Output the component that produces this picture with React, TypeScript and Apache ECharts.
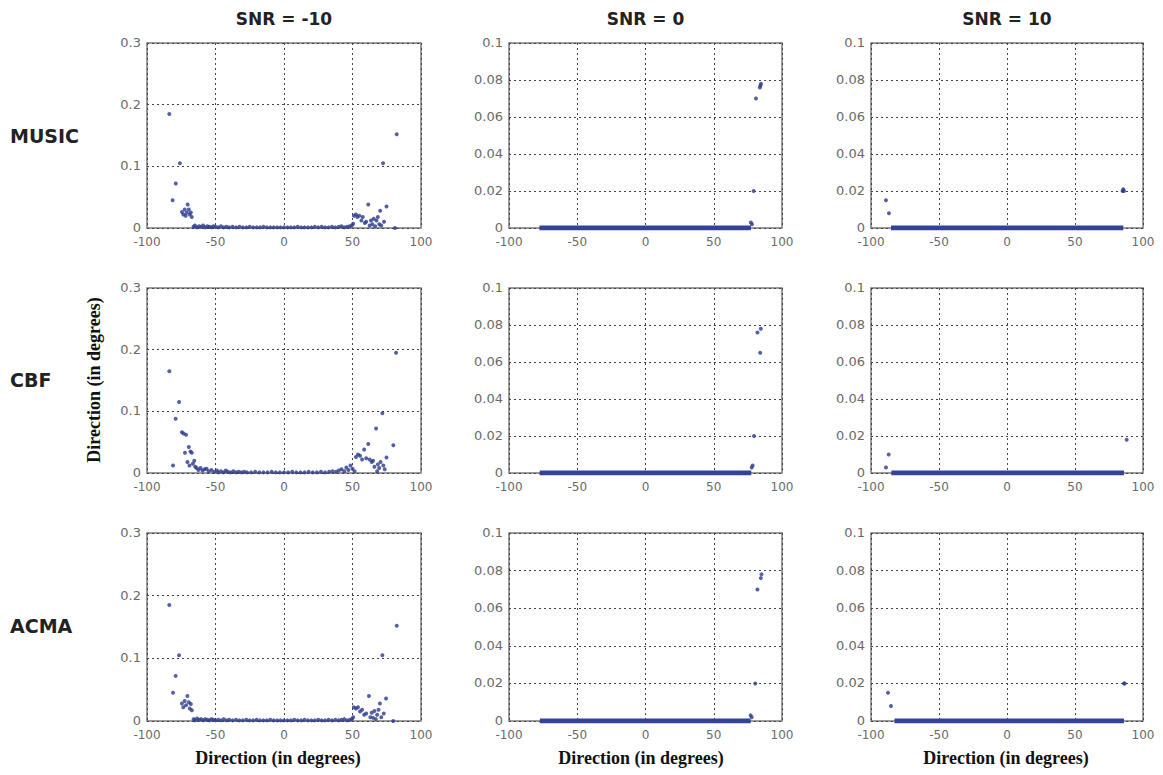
import React, { useEffect, useRef } from "react";
import * as echarts from "echarts";

// ---------- labels ----------
const methods = ["MUSIC", "CBF", "ACMA"];
const snrTitles = ["SNR = -10", "SNR = 0", "SNR = 10"];
const axisTitle = "Direction (in degrees)";
const yMaxBySnr = [0.3, 0.1, 0.1];
const yStepBySnr = [0.1, 0.02, 0.02];
const xMin = -100;
const xMax = 100;
const xStep = 50;

// ---------- SNR = -10 ----------
const musicM10: number[][] = [
  [-83.7, 0.185], [-81.3, 0.045], [-79, 0.072], [-76, 0.105],
  [-74.5, 0.026], [-73.5, 0.022], [-72.5, 0.03], [-71.8, 0.02], [-71, 0.025], [-70.3, 0.038],
  [-69.5, 0.03], [-68.8, 0.022], [-68, 0.025], [-67.3, 0.018],
  [-66, 0.002], [-65, 0.004], [-63.5, 0.001], [-62, 0.003], [-60.5, 0.002], [-59, 0.004],
  [-57.5, 0.001], [-56, 0.003], [-54.5, 0.002], [-53, 0.001], [-51.5, 0.003], [-50, 0.002],
  [-48, 0.001], [-46, 0.003], [-44, 0.001], [-42, 0.002], [-40, 0.001], [-37.5, 0.002],
  [-35, 0.001], [-32.5, 0.002], [-30, 0.001], [-27.5, 0.001], [-25, 0.002], [-22.5, 0.001],
  [-20, 0.001], [-17.5, 0.001], [-15, 0.002], [-12.5, 0.001], [-10, 0.001], [-7.5, 0.001],
  [-5, 0.001], [-2.5, 0.001], [0, 0.001], [2.5, 0.001], [5, 0.001], [7.5, 0.001],
  [10, 0.002], [12.5, 0.001], [15, 0.001], [17.5, 0.001], [20, 0.001], [22.5, 0.002],
  [25, 0.001], [27.5, 0.002], [30, 0.001], [32.5, 0.001], [35, 0.002], [37.5, 0.001],
  [40, 0.002], [42, 0.003], [44, 0.001], [46, 0.002], [48, 0.003], [49.5, 0.004], [50.5, 0.007],
  [51, 0.02], [52.5, 0.022], [53.5, 0.018], [55, 0.02], [56.5, 0.012], [57.5, 0.018],
  [59, 0.008], [60, 0.01], [61.5, 0.038], [62.5, 0.004], [63.5, 0.012], [64.5, 0.006],
  [65.5, 0.015], [66.5, 0.003], [67.5, 0.012], [68.5, 0.018], [69.5, 0.006], [70.2, 0.028],
  [71, 0.004], [72.3, 0.105], [73, 0.01], [74.8, 0.035], [81, 0.0], [82.3, 0.152],
];

const cbfM10: number[][] = [
  [-83.7, 0.165], [-81, 0.012], [-79.1, 0.088], [-76.6, 0.115],
  [-74.5, 0.066], [-73.3, 0.064], [-72.3, 0.033], [-71.5, 0.062], [-70.5, 0.018], [-69.5, 0.042],
  [-69, 0.012], [-68.3, 0.035], [-67.3, 0.033], [-66.5, 0.015], [-65.5, 0.02], [-64.8, 0.01],
  [-63.8, 0.008], [-62.5, 0.005], [-61, 0.008], [-59.5, 0.004], [-58, 0.006],
  [-56.5, 0.007], [-55, 0.003], [-53, 0.005], [-51, 0.002], [-49, 0.004], [-48, 0.001],
  [-46, 0.003], [-44, 0.001], [-42.5, 0.004], [-41, 0.002], [-39, 0.001], [-37, 0.003],
  [-35, 0.001], [-33, 0.002], [-31, 0.001], [-29, 0.002], [-27, 0.001], [-24, 0.001],
  [-21, 0.002], [-18, 0.001], [-15, 0.001], [-12, 0.001], [-9, 0.002], [-6, 0.001],
  [-3, 0.001], [0, 0.001], [3, 0.001], [6, 0.002], [9, 0.001], [12, 0.001], [15, 0.001],
  [18, 0.002], [21, 0.001], [24, 0.001], [27, 0.002], [30, 0.001], [33, 0.002], [35.5, 0.003],
  [38, 0.002], [40, 0.004], [42, 0.006], [44, 0.003], [45.5, 0.009], [47, 0.005], [48.5, 0.012],
  [50, 0.007], [51.5, 0.003],
  [52.5, 0.026], [54, 0.03], [55.5, 0.028], [57, 0.022], [58.5, 0.038], [60, 0.024],
  [61.5, 0.047], [62.5, 0.022], [64, 0.018], [65, 0.02], [66, 0.01], [67.2, 0.072],
  [68, 0.003], [68.5, 0.014], [69.5, 0.008], [70.5, 0.018], [71.8, 0.097], [72.5, 0.012],
  [73.5, 0.006], [74.8, 0.025], [79.8, 0.045], [81.8, 0.195],
];

const acmaM10: number[][] = [
  [-83.7, 0.185], [-81, 0.045], [-79.1, 0.072], [-76.6, 0.105],
  [-74.5, 0.028], [-73.5, 0.022], [-72.5, 0.032], [-71.5, 0.025], [-70.5, 0.04], [-69.5, 0.03],
  [-68.8, 0.02], [-68, 0.027], [-67.3, 0.017],
  [-66, 0.003], [-65, 0.001], [-63.5, 0.004], [-62, 0.002], [-60.5, 0.003], [-59, 0.001],
  [-57.5, 0.003], [-56, 0.002], [-54.5, 0.001], [-53, 0.003], [-51.5, 0.002], [-50, 0.001],
  [-48, 0.002], [-46, 0.001], [-44, 0.003], [-42, 0.001], [-40, 0.002], [-37.5, 0.001],
  [-35, 0.002], [-32.5, 0.001], [-30, 0.001], [-27.5, 0.002], [-25, 0.001], [-22.5, 0.001],
  [-20, 0.002], [-17.5, 0.001], [-15, 0.001], [-12.5, 0.001], [-10, 0.002], [-7.5, 0.001],
  [-5, 0.001], [-2.5, 0.001], [0, 0.001], [2.5, 0.001], [5, 0.001], [7.5, 0.002],
  [10, 0.001], [12.5, 0.001], [15, 0.002], [17.5, 0.001], [20, 0.001], [22.5, 0.001],
  [25, 0.002], [27.5, 0.001], [30, 0.001], [32.5, 0.002], [35, 0.001], [37.5, 0.002],
  [40, 0.001], [42, 0.002], [44, 0.003], [46, 0.001], [48, 0.002], [49.5, 0.003], [50.5, 0.006],
  [51, 0.022], [52.5, 0.02], [54, 0.022], [55.5, 0.015], [57, 0.018], [58.5, 0.01],
  [60, 0.012], [62, 0.04], [63, 0.006], [64, 0.013], [65, 0.005], [66, 0.016],
  [67, 0.003], [68, 0.01], [69, 0.018], [70, 0.028], [71, 0.006], [71.8, 0.105],
  [72.8, 0.012], [74.5, 0.036], [79.7, 0.0], [82.3, 0.152],
];

// ---------- SNR = 0 ----------
const music0Band = [-77.7, 77.2];
const music0Pts: number[][] = [
  [77.2, 0.003], [78, 0.002], [79.2, 0.02], [80.9, 0.07], [83.8, 0.076], [84.2, 0.077], [84.6, 0.078],
];
const cbf0Band = [-77.5, 77.5];
const cbf0Pts: number[][] = [
  [77.8, 0.003], [78.5, 0.004], [79.5, 0.02], [82, 0.076], [84, 0.065], [84.5, 0.078],
];
const acma0Band = [-77.4, 77.0];
const acma0Pts: number[][] = [
  [77, 0.003], [77.8, 0.002], [80.4, 0.02], [82, 0.07], [84.5, 0.076], [85, 0.078],
];

// ---------- SNR = 10 ----------
const music10Band = [-85.3, 85.5];
const music10Pts: number[][] = [
  [-89, 0.015], [-86.8, 0.008], [85, 0.02], [85.5, 0.021], [86, 0.02],
];
const cbf10Band = [-85, 86];
const cbf10Pts: number[][] = [
  [-89, 0.003], [-87, 0.01], [88, 0.018],
];
const acma10Band = [-82.7, 86];
const acma10Pts: number[][] = [
  [-87.5, 0.015], [-85.3, 0.008], [86, 0.02], [86.5, 0.02],
];

const panelPoints: number[][][][] = [
  [musicM10, music0Pts, music10Pts],
  [cbfM10, cbf0Pts, cbf10Pts],
  [acmaM10, acma0Pts, acma10Pts],
];
const panelBands: (number[] | null)[][] = [
  [null, music0Band, music10Band],
  [null, cbf0Band, cbf10Band],
  [null, acma0Band, acma10Band],
];

// ---------- layout ----------
const colLeft = [147, 509, 871];
const colWidth = [274, 273, 272];
const rowTop = [43, 288, 533];
const rowHeight = [185, 185, 188];

const MARK = "#2b3a8c";
const BAND = "#33439a";

export default function App() {
  const ref = useRef<HTMLDivElement>(null);
  useEffect(() => {
    if (!ref.current) return;
    const chart = echarts.init(ref.current, undefined, { renderer: "svg" });
    const grids: any[] = [];
    const xAxes: any[] = [];
    const yAxes: any[] = [];
    const series: any[] = [];
    for (let r = 0; r < 3; r++) {
      for (let c = 0; c < 3; c++) {
        const gi = r * 3 + c;
        grids.push({
          left: colLeft[c],
          top: rowTop[r],
          width: colWidth[c],
          height: rowHeight[r],
          show: true,
          borderColor: "#7a7a7a",
          borderWidth: 1.5,
          backgroundColor: "#ffffff",
        });
        xAxes.push({
          type: "value",
          gridIndex: gi,
          min: xMin,
          max: xMax,
          interval: xStep,
          axisLine: { show: false },
          axisTick: { show: false },
          axisLabel: {
            color: "#6a6a6a",
            fontSize: 12,
            fontFamily: "DejaVu Sans",
            margin: 8,
          },
          splitLine: {
            show: true,
            lineStyle: { color: "#444", type: [2, 3], width: 1 },
          },
        });
        yAxes.push({
          type: "value",
          gridIndex: gi,
          min: 0,
          max: yMaxBySnr[c],
          interval: yStepBySnr[c],
          axisLine: { show: false },
          axisTick: { show: false },
          axisLabel: {
            color: "#6a6a6a",
            fontSize: 13,
            fontFamily: "DejaVu Sans",
            margin: 6,
            verticalAlign: "bottom",
            padding: [0, 0, -6, 0],
          },
          splitLine: {
            show: true,
            lineStyle: { color: "#444", type: [2, 3], width: 1 },
          },
        });
        const band = panelBands[r][c];
        if (band) {
          series.push({
            type: "line",
            xAxisIndex: gi,
            yAxisIndex: gi,
            data: [[band[0], 0], [band[1], 0]],
            showSymbol: false,
            clip: true,
            lineStyle: { color: BAND, width: 5 },
            silent: true,
            z: 3,
          });
        }
        series.push({
          type: "scatter",
          xAxisIndex: gi,
          yAxisIndex: gi,
          data: panelPoints[r][c],
          symbol: "circle",
          symbolSize: 4,
          itemStyle: { color: MARK },
          silent: true,
          z: 4,
        });
      }
    }

    const colCenter = colLeft.map((l, i) => l + colWidth[i] / 2);
    const graphics: any[] = [];
    snrTitles.forEach((t, i) => {
      graphics.push({
        type: "text",
        x: colCenter[i],
        y: 19,
        style: {
          text: t,
          fill: "#222",
          font: "bold 17px 'DejaVu Sans'",
          textAlign: "center",
          textVerticalAlign: "middle",
        },
      });
    });
    const rowLabelY = [136, 380, 626];
    methods.forEach((m, i) => {
      graphics.push({
        type: "text",
        x: 10,
        y: rowLabelY[i],
        style: {
          text: m,
          fill: "#222",
          font: "bold 19px 'DejaVu Sans'",
          textAlign: "left",
          textVerticalAlign: "middle",
        },
      });
    });
    graphics.push({
      type: "text",
      x: 94,
      y: 380,
      rotation: Math.PI / 2,
      style: {
        text: axisTitle,
        fill: "#111",
        font: "bold 18px 'Liberation Serif'",
        textAlign: "center",
        textVerticalAlign: "middle",
      },
    });
    const xNameX = [278, 641, 1006];
    xNameX.forEach((x) => {
      graphics.push({
        type: "text",
        x,
        y: 758,
        style: {
          text: axisTitle,
          fill: "#111",
          font: "bold 18px 'Liberation Serif'",
          textAlign: "center",
          textVerticalAlign: "middle",
        },
      });
    });

    chart.setOption({
      animation: false,
      backgroundColor: "#ffffff",
      grid: grids,
      xAxis: xAxes,
      yAxis: yAxes,
      series,
      graphic: graphics,
    });
    return () => chart.dispose();
  }, []);
  return (
    <div
      ref={ref}
      style={{ position: "absolute", left: 0, top: 0, width: 1163, height: 775, background: "#fff" }}
    />
  );
}
